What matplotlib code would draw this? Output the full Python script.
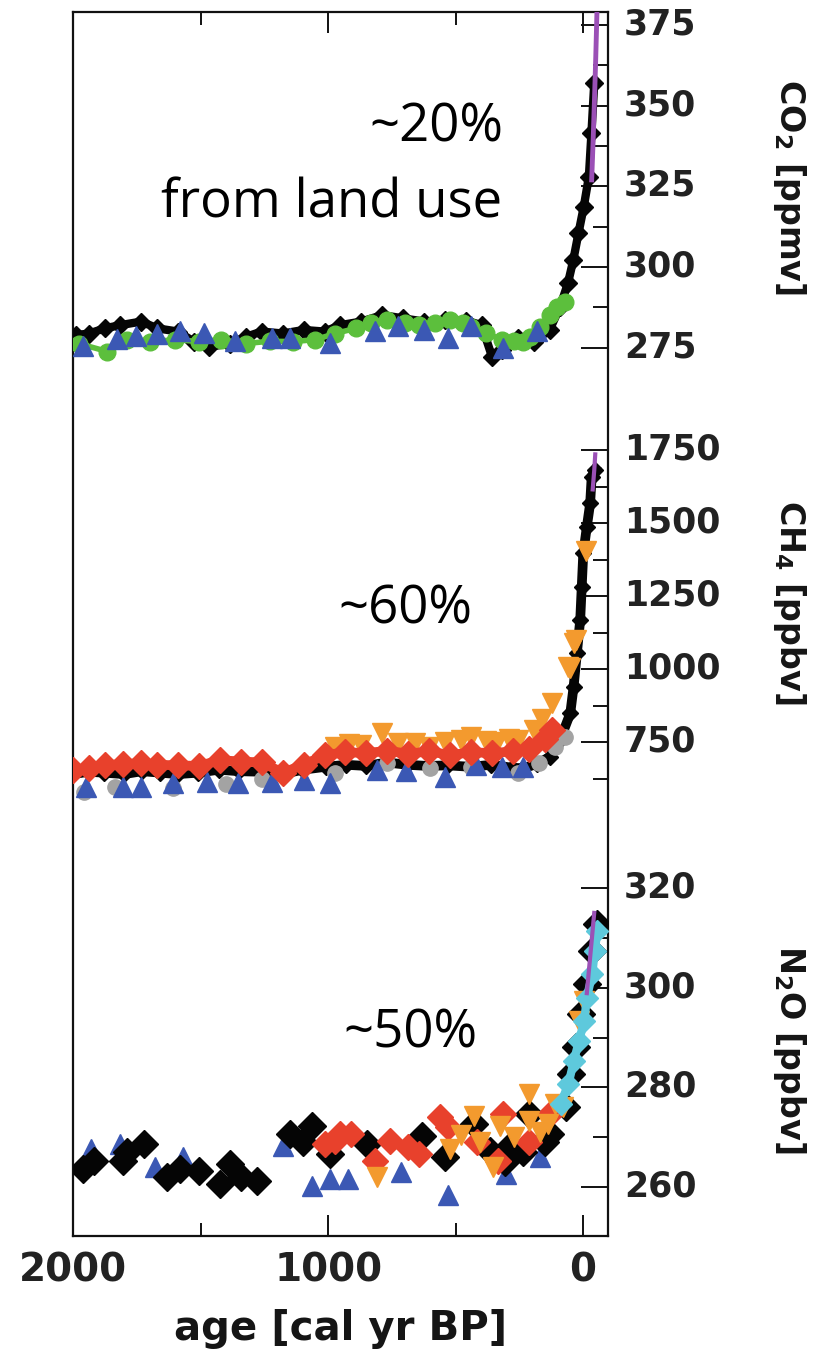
import matplotlib.pyplot as plt
import matplotlib.transforms as mtransforms

plt.rcParams['font.family'] = ['DejaVu Sans']
plt.rcParams['font.weight'] = 'bold'
plt.rcParams['axes.labelweight'] = 'bold'

# ---------------- CO2 [ppmv] ----------------
co2_black_age = [1990, 1938, 1877, 1815, 1733, 1671, 1589, 1528, 1466, 1384, 1322, 1261,
                 1178, 1096, 1014, 952, 870, 788, 706, 624, 542, 459, 398, 357, 316, 254,
                 192, 131, 90, 59, 38, 18, -3, -23, -33, -44]
co2_black = [278.9, 279.4, 281.0, 282.0, 283.1, 281.0, 280.0, 276.9, 275.3, 276.3, 278.4, 280.0,
             279.4, 280.5, 280.0, 282.0, 283.1, 285.1, 284.1, 283.1, 283.6, 283.4, 282.0, 272.2,
             274.3, 277.9, 276.9, 280.5, 287.7, 295.0, 302.2, 310.4, 318.7, 328.0, 341.4, 356.9]

co2_green_age = [1979, 1866, 1790, 1700, 1600, 1507, 1420, 1322, 1230, 1137, 1050, 973, 891,
                 830, 768, 700, 644, 580, 521, 470, 439, 380, 316, 270, 234, 208, 169, 130,
                 103, 70]
co2_green = [276.3, 273.8, 277.5, 276.8, 277.5, 276.9, 277.5, 276.3, 277.0, 276.9, 277.5, 279.4,
             281.0, 282.5, 283.6, 282.5, 282.0, 282.5, 283.6, 282.5, 281.5, 279.5, 277.4, 277.0,
             276.9, 278.4, 281.5, 285.0, 287.7, 289.3]

co2_blue_age = [1960, 1827, 1755, 1672, 1580, 1487, 1364, 1220, 1148, 993, 818, 726, 623,
                530, 438, 314, 180]
co2_blue = [275.5, 277.6, 278.6, 279.1, 280.1, 279.6, 277.0, 278.1, 278.1, 276.5, 280.1,
            281.6, 280.6, 278.1, 281.6, 275.0, 280.1]

co2_purple_age = [-34, -40, -45, -50, -55]
co2_purple = [327, 340, 352, 365, 380]

# ---------------- CH4 [ppbv] ----------------
ch4_black_age = [2000, 1940, 1880, 1800, 1730, 1660, 1590, 1510, 1430, 1350, 1260, 1180,
                 1100, 1010, 930, 850, 770, 690, 610, 530, 440, 360, 280, 234, 180, 129, 90,
                 50, 37, 24, 11, 5, -1, -15, -28, -34, -48]
ch4_black = [640, 648, 645, 640, 650, 645, 640, 645, 655, 650, 648, 640,
             655, 665, 672, 668, 680, 672, 668, 670, 665, 672, 662, 660, 675, 700, 757,
             848, 939, 1054, 1168, 1282, 1396, 1487, 1567, 1659, 1682]

ch4_gray_age = [1959, 1836, 1610, 1400, 1261, 973, 768, 600, 439, 254, 172, 110, 69]
ch4_gray = [580, 597, 591, 605, 625, 643, 677, 662, 666, 643, 677, 734, 768]

ch4_blue_age = [1949, 1805, 1733, 1610, 1476, 1353, 1219, 1096, 994, 809, 696, 542, 418,
                316, 234]
ch4_blue = [597, 597, 597, 608, 614, 608, 614, 620, 608, 654, 649, 631, 671, 666, 666]

ch4_orange_age = [973, 920, 870, 788, 726, 660, 603, 540, 480, 439, 380, 336, 290, 254,
                  192, 160, 121, 59, 50, 37, 28, -13]
ch4_orange = [734, 742, 740, 780, 745, 748, 734, 750, 758, 768, 755, 751, 760, 757,
              791, 830, 883, 1008, 1005, 1090, 1099, 1405]

ch4_red_age = [2000, 1938, 1877, 1805, 1733, 1671, 1589, 1507, 1425, 1343, 1261, 1178,
               1096, 1014, 932, 850, 768, 685, 603, 521, 439, 357, 275, 213, 151, 121]
ch4_red = [655, 660, 670, 675, 677, 672, 670, 668, 688, 683, 680, 645,
           672, 705, 715, 712, 720, 710, 718, 705, 715, 712, 718, 725, 760, 790]

ch4_purple_age = [-38, -44, -48]
ch4_purple = [1615, 1680, 1735]

# ---------------- N2O [ppbv] ----------------
n2o_black_age = [1960, 1919, 1806, 1790, 1724, 1631, 1580, 1508, 1425, 1384, 1343, 1281,
                 1148, 1100, 1065, 993, 849, 633, 541, 427, 366, 305, 290, 234, 211, 151,
                 129, 67, 47, 26, 6, -15, -36, -56]
n2o_black = [263.7, 265.3, 265.3, 267.0, 268.7, 262.0, 263.7, 263.3, 260.7, 264.7, 262.0, 261.3,
             270.7, 269.0, 272.3, 266.7, 268.7, 270.3, 266.0, 272.7, 267.3, 265.0, 268.0, 267.0,
             274.7, 269.0, 270.7, 276.0, 282.7, 288.0, 294.7, 300.7, 307.3, 312.7]

n2o_red_age = [1014, 973, 952, 911, 818, 757, 685, 643, 561, 530, 417, 335, 314, 211, 129]
n2o_red = [268.7, 269.3, 270.7, 270.7, 265.3, 269.3, 268.0, 266.7, 274.0, 272.0, 269.0,
           265.3, 274.7, 269.0, 274.7]

n2o_orange_age = [808, 520, 480, 427, 405, 355, 325, 270, 211, 211, 170, 139, 108, 80, 16, -5]
n2o_orange = [262.0, 267.7, 270.5, 274.3, 269.0, 264.0, 272.3, 270.0, 273.3, 278.7, 271.0,
              272.7, 276.7, 276.0, 293.3, 297.3]

n2o_blue_age = [1930, 1816, 1680, 1570, 1178, 1065, 993, 921, 715, 530, 304, 170]
n2o_blue = [267.7, 268.7, 264.0, 266.0, 268.3, 260.3, 261.7, 261.7, 263.0, 258.3, 262.7, 266.0]

n2o_cyan_age = [88, 57, 36, 16, -5, -15, -36, -46, -56]
n2o_cyan = [276.7, 280.7, 285.3, 289.3, 293.3, 298.0, 302.7, 307.3, 311.3]

n2o_purple_age = [-15, -25, -35, -44]
n2o_purple = [298.9, 304.5, 310.0, 315.0]

BLACK = '#050505'
BLUE = '#3b58b4'
GREEN = '#5cbf3c'
RED = '#e8412c'
ORANGE = '#f39a2e'
PURPLE = '#9b50b6'
CYAN = '#5ec9dc'
GRAY = '#a3a3a3'

# figure geometry in pixels
W, H = 820, 1350
L, R, T, B = 73.3, 608.5, 11.7, 1236.0
rect = [L / W, 1 - B / H, (R - L) / W, (B - T) / H]

fig = plt.figure(figsize=(W / 100, H / 100), dpi=100)
lift = mtransforms.ScaledTranslation(0, 4 / 100, fig.dpi_scale_trans)

ax = fig.add_axes(rect)
ax.set_xlim(2000, -100)
ax.set_ylim(0, 1)
ax.set_yticks([])
ax.set_xticks([2000, 1000, 0])
ax.set_xticks([1500, 500], minor=True)
ax.set_xticklabels(['2000', '1000', '0'])
ax.tick_params(axis='x', which='both', direction='in', top=True, bottom=True, width=1.4,
               colors='#111111', labelcolor='#222222', labelsize=28, pad=11)
ax.tick_params(axis='x', which='major', length=15)
ax.tick_params(axis='x', which='minor', length=9.4)
ax.set_xlabel('age [cal yr BP]', fontsize=29, fontweight='bold', color='#151515', labelpad=14)
for s in ax.spines.values():
    s.set_linewidth(1.6)
    s.set_color('#111111')


def gas_axes(v_top, y_top, v_bot, y_bot, major, minor, label, label_y):
    a = fig.add_axes(rect)
    a.patch.set_visible(False)
    for s in a.spines.values():
        s.set_visible(False)
    a.set_xlim(2000, -100)
    a.set_xticks([])
    k = (y_bot - y_top) / (v_top - v_bot)
    a.set_ylim(v_bot - (B - y_bot) / k, v_top + (y_top - T) / k)
    a.yaxis.tick_right()
    a.set_yticks(major)
    a.set_yticks(minor, minor=True)
    a.tick_params(axis='y', which='both', direction='in', width=1.4, colors='#111111',
                  labelcolor='#222222', labelsize=25, pad=11)
    a.tick_params(axis='y', which='major', length=19.4)
    a.tick_params(axis='y', which='minor', length=10.8)
    for lbl in a.get_yticklabels():
        lbl.set_transform(lbl.get_transform() + lift)
    a.yaxis.set_label_position('right')
    a.set_ylabel(label, fontsize=24, fontweight='bold', rotation=270, ha='center',
                 va='center', rotation_mode='anchor', color='#151515')
    a.yaxis.set_label_coords((790 - L) / (R - L), (B - label_y) / (B - T))
    return a


ax_co2 = gas_axes(375, 25, 275, 347.7, [275, 300, 325, 350, 375],
                  [287.5, 312.5, 337.5, 362.5], 'CO$_\\mathbf{2}$ [ppmv]', 187)
ax_ch4 = gas_axes(1750, 450, 750, 742, [750, 1000, 1250, 1500, 1750],
                  [625, 875, 1125, 1375, 1625], 'CH$_\\mathbf{4}$ [ppbv]', 602)
ax_n2o = gas_axes(320, 888, 260, 1187, [260, 280, 300, 320],
                  [270, 290, 310], 'N$_\\mathbf{2}$O [ppbv]', 1049)

# CO2 panel
ax_co2.plot(co2_black_age, co2_black, color=BLACK, lw=6, marker='D', ms=9, zorder=2)
ax_co2.plot(co2_green_age, co2_green, color=GREEN, lw=4, marker='o', ms=12, zorder=3)
ax_co2.plot(co2_blue_age, co2_blue, ls='none', color=BLUE, marker='^', ms=14, zorder=4)
ax_co2.plot(co2_purple_age, co2_purple, color=PURPLE, lw=3.5, zorder=5)

# CH4 panel
ax_ch4.plot(ch4_black_age, ch4_black, color=BLACK, lw=7, marker='D', ms=8, zorder=2)
ax_ch4.plot(ch4_gray_age, ch4_gray, ls='none', color=GRAY, marker='o', ms=11, zorder=2)
ax_ch4.plot(ch4_blue_age, ch4_blue, ls='none', color=BLUE, marker='^', ms=14, zorder=3)
ax_ch4.plot(ch4_orange_age, ch4_orange, ls='none', color=ORANGE, marker='v', ms=14, zorder=3)
ax_ch4.plot(ch4_red_age, ch4_red, color=RED, lw=7, marker='D', ms=13, zorder=4)
ax_ch4.plot(ch4_purple_age, ch4_purple, color=PURPLE, lw=3, zorder=5)

# N2O panel
ax_n2o.plot(n2o_blue_age, n2o_blue, ls='none', color=BLUE, marker='^', ms=14, zorder=2)
ax_n2o.plot(n2o_black_age, n2o_black, ls='none', color=BLACK, marker='D', ms=14, zorder=3)
ax_n2o.plot(n2o_red_age, n2o_red, ls='none', color=RED, marker='D', ms=13, zorder=3)
ax_n2o.plot(n2o_orange_age, n2o_orange, ls='none', color=ORANGE, marker='v', ms=14, zorder=4)
ax_n2o.plot(n2o_cyan_age, n2o_cyan, color=CYAN, lw=6, marker='D', ms=11, zorder=4)
ax_n2o.plot(n2o_purple_age, n2o_purple, color=PURPLE, lw=3, zorder=5)

# annotations
note = dict(fontsize=38, fontweight='normal', color='black', family=['Open Sans', 'DejaVu Sans'])
fig.text(503 / W, 1 - 142 / H, '~20%', ha='right', va='baseline', **note)
fig.text(502 / W, 1 - 218 / H, 'from land use', ha='right', va='baseline', **note)
fig.text(405 / W, 1 - 623 / H, '~60%', ha='center', va='baseline', **note)
fig.text(410 / W, 1 - 1047 / H, '~50%', ha='center', va='baseline', **note)

fig.savefig('out.png', dpi=100)
